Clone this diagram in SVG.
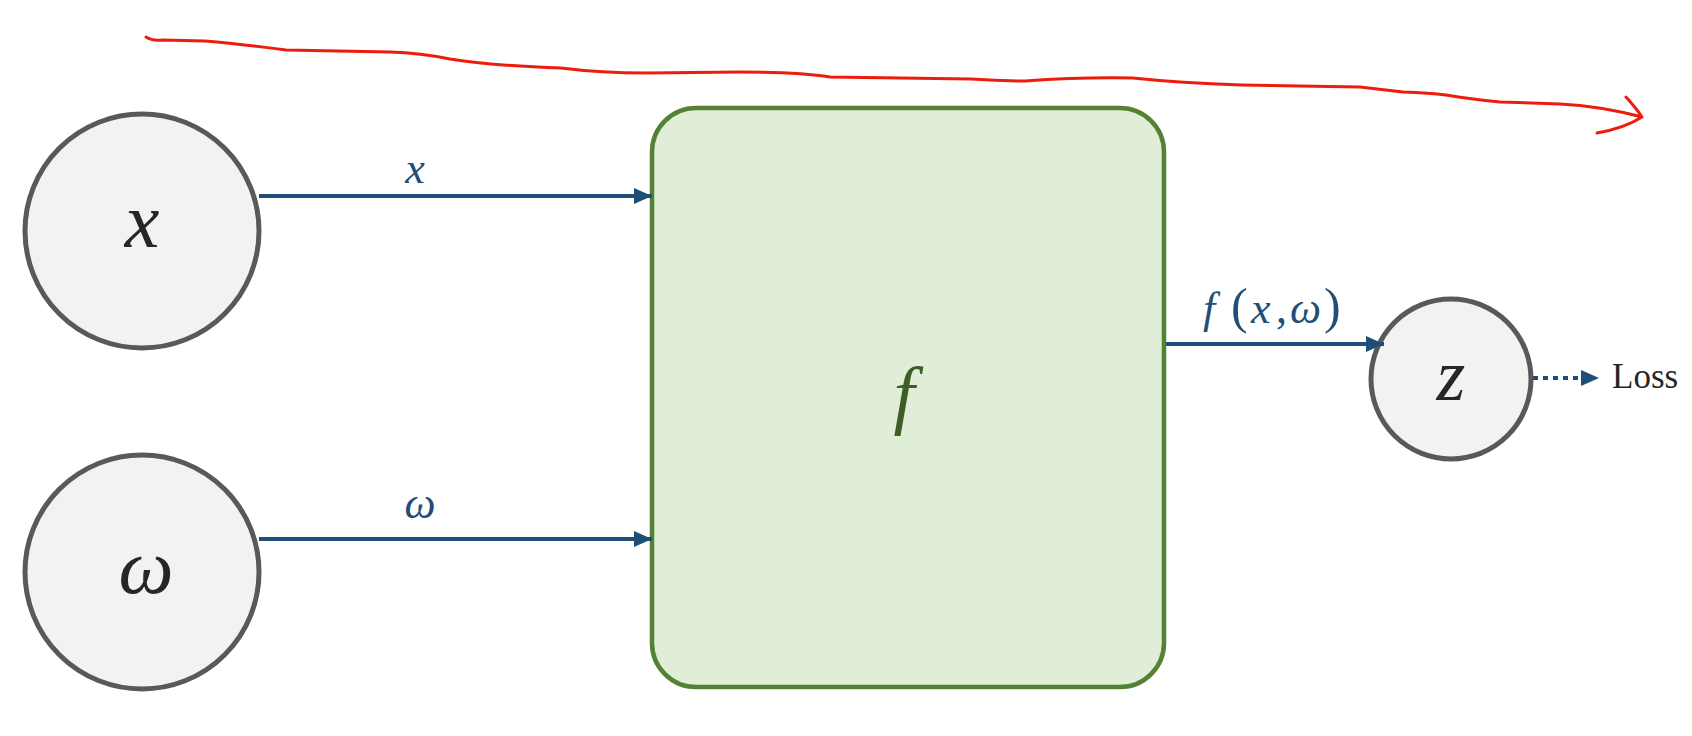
<svg xmlns="http://www.w3.org/2000/svg" width="1692" height="736" viewBox="0 0 1692 736">
<style>
.node{fill:#f2f2f2;stroke:#595959;stroke-width:5}
.math{font-family:"Liberation Serif","DejaVu Serif",serif;font-style:italic;text-anchor:middle}
.conn{stroke:#1f4e79;stroke-width:4;fill:none}
.lbl{fill:#1f4e79}
</style>
<defs>
<marker id="ah" markerUnits="userSpaceOnUse" markerWidth="18" markerHeight="16" refX="18" refY="8" orient="auto">
<path d="M0,0 L18,8 L0,16 Z" fill="#1f4e79"/>
</marker>
</defs>
<rect width="1692" height="736" fill="#ffffff"/>
<path id="red-stroke" d="M146,37 Q152,41 162,40 L205,41 Q240,44 286,50 L390,52 Q421,53 450,59 Q496,66 561,68 Q600,73 647,73 L740,72 Q799,72 830,77 L971,79 Q1000,81 1025,81 Q1080,77 1133,78 Q1180,83 1241,85 L1360,87 Q1385,90 1403,92 Q1430,93 1446,95 Q1470,99 1500,102 L1560,104 Q1600,106 1642,117 M1626,97 Q1636,108 1642,117 Q1625,128 1597,133" fill="none" stroke="#ee1c0c" stroke-width="3" stroke-linejoin="round" stroke-linecap="round"/>
<g id="node-x">
<circle class="node" cx="142" cy="231" r="117"/>
<text class="math" x="142" y="247" font-size="78" fill="#262626">x</text>
</g>
<g id="node-w">
<circle class="node" cx="142" cy="572" r="117"/>
<text class="math" x="146" y="593" font-size="78" fill="#262626">ω</text>
</g>
<g id="node-f">
<rect x="652" y="108" width="512" height="579" rx="44" ry="44" fill="#e0eed8" stroke="#548235" stroke-width="4.5"/>
<text class="math" x="904" y="420" font-size="76" fill="#3d5f26">f</text>
</g>
<g id="node-z">
<circle class="node" cx="1451" cy="379" r="80"/>
<text class="math" x="1451" y="400" font-size="74" fill="#262626">z</text>
</g>
<g id="node-loss">
<text x="1612" y="388" font-family="Liberation Serif, serif" font-size="35" fill="#262626">Loss</text>
</g>
<g id="connectors">
<line class="conn" x1="259" y1="196" x2="652" y2="196" marker-end="url(#ah)"/>
<line class="conn" x1="259" y1="539" x2="652" y2="539" marker-end="url(#ah)"/>
<line class="conn" x1="1166" y1="344" x2="1384" y2="344" marker-end="url(#ah)"/>
<line class="conn" x1="1533" y1="378" x2="1582" y2="378" stroke-dasharray="5 5"/>
<path d="M1581,370 L1599,378 L1581,386 Z" fill="#1f4e79"/>
<text class="math lbl" x="415" y="183" font-size="44">x</text>
<text class="math lbl" x="420" y="518" font-size="44">ω</text>
<text class="lbl" font-family="Liberation Serif, DejaVu Serif, serif" font-style="italic" font-size="44" y="323"><tspan x="1203">f</tspan><tspan x="1231" font-style="normal" font-size="50">(</tspan><tspan x="1251">x</tspan><tspan x="1276" font-style="normal">,</tspan><tspan x="1290">ω</tspan><tspan x="1324" font-style="normal" font-size="50">)</tspan></text>
</g>
</svg>
